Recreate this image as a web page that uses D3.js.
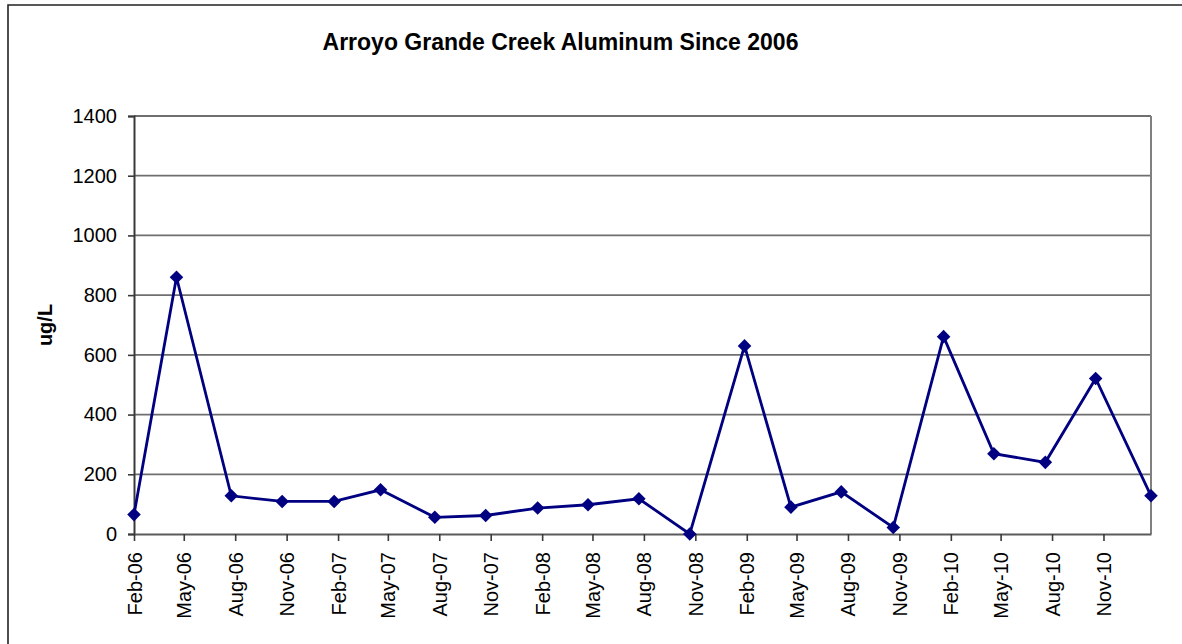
<!DOCTYPE html>
<html>
<head>
<meta charset="utf-8">
<script src="https://cdn.jsdelivr.net/npm/d3@7"></script>
<style>
  html, body { margin: 0; padding: 0; background: #fff; }
  svg { display: block; }
  text { font-family: "Liberation Sans", Arial, sans-serif; fill: #000; }
</style>
</head>
<body>
<svg id="chart" width="1182" height="644"></svg>
<script>
// ---- Data ----
const sampleDates = [
  "2006-02-01","2006-04-18","2006-07-25","2006-10-24","2007-01-25","2007-04-18",
  "2007-07-24","2007-10-23","2008-01-24","2008-04-23","2008-07-23","2008-10-22",
  "2009-01-28","2009-04-21","2009-07-20","2009-10-21","2010-01-19","2010-04-19",
  "2010-07-20","2010-10-18","2011-01-25"
];
const aluminum = [65, 860, 128, 109, 109, 148, 56, 62, 87, 98, 118, 0,
                  630, 90, 141, 22, 661, 269, 240, 521, 128];
const tickLabels = ["Feb-06","May-06","Aug-06","Nov-06","Feb-07","May-07","Aug-07","Nov-07",
                    "Feb-08","May-08","Aug-08","Nov-08","Feb-09","May-09","Aug-09","Nov-09",
                    "Feb-10","May-10","Aug-10","Nov-10"];
const yTicks = [0, 200, 400, 600, 800, 1000, 1200, 1400];
const chartTitle = "Arroyo Grande Creek Aluminum Since 2006";
const yLabel = "ug/L";

// ---- Build ----
const parseISO = d3.utcParse("%Y-%m-%d");
const parseTick = d3.utcParse("%b-%y");
const data = sampleDates.map((d, i) => ({ date: parseISO(d), value: aluminum[i] }));
const tickDates = tickLabels.map(parseTick);

const svg = d3.select("#chart");
const plot = { left: 134, right: 1151, top: 116, bottom: 534 };

const x = d3.scaleUtc()
  .domain(d3.extent(data, d => d.date))
  .range([plot.left, plot.right]);
const y = d3.scaleLinear()
  .domain([0, 1400])
  .range([plot.bottom, plot.top]);

// Outer chart border (only top and left visible in the frame)
svg.append("path")
  .attr("d", "M8,1200 L8,5 L1300,5")
  .attr("fill", "none").attr("stroke", "#222").attr("stroke-width", 1.6);

// Title
svg.append("text")
  .attr("x", 560.5).attr("y", 49.5)
  .attr("text-anchor", "middle")
  .style("font-size", "23px").style("font-weight", "bold")
  .text(chartTitle);

// Y axis label
svg.append("text")
  .attr("transform", `translate(52,${(plot.top + plot.bottom) / 2}) rotate(-90)`)
  .attr("text-anchor", "middle")
  .style("font-size", "20px").style("font-weight", "bold")
  .text(yLabel);

// Gridlines
svg.append("g")
  .selectAll("line")
  .data(yTicks.filter(v => v > 0))
  .join("line")
  .attr("x1", plot.left).attr("x2", plot.right)
  .attr("y1", d => y(d)).attr("y2", d => y(d))
  .attr("stroke", "#6f6f6f").attr("stroke-width", 1.8);

// Plot-area right border
svg.append("line")
  .attr("x1", plot.right).attr("x2", plot.right)
  .attr("y1", plot.top).attr("y2", plot.bottom)
  .attr("stroke", "#808080").attr("stroke-width", 2);

// Y axis
const yAxis = svg.append("g")
  .attr("transform", `translate(${plot.left},0)`)
  .call(d3.axisLeft(y).tickValues(yTicks).tickFormat(d3.format("d")).tickSize(6).tickPadding(11));
yAxis.select(".domain").attr("stroke", "#3a3a3a").attr("stroke-width", 2);
yAxis.selectAll(".tick line").attr("stroke", "#3a3a3a").attr("stroke-width", 1.6);
yAxis.selectAll(".tick text")
  .style("font-size", "20px").style("font-family", "'Liberation Sans', Arial, sans-serif")
  .attr("fill", "#000");

// X axis
const xAxis = svg.append("g")
  .attr("transform", `translate(0,${plot.bottom})`)
  .call(d3.axisBottom(x).tickValues(tickDates).tickFormat((d, i) => tickLabels[i]).tickSize(7).tickSizeOuter(0));
xAxis.select(".domain").attr("stroke", "#5a5a5a").attr("stroke-width", 2);
xAxis.selectAll(".tick line").attr("stroke", "#3a3a3a").attr("stroke-width", 1.6);
xAxis.selectAll(".tick text")
  .style("font-size", "20px").style("font-family", "'Liberation Sans', Arial, sans-serif")
  .attr("fill", "#000")
  .attr("text-anchor", "end")
  .attr("transform", "translate(0,18) rotate(-90)")
  .attr("x", 0).attr("y", 0).attr("dy", "0.35em");

// Series line
svg.append("path")
  .datum(data)
  .attr("fill", "none")
  .attr("stroke", "#000080")
  .attr("stroke-width", 2.8)
  .attr("stroke-linejoin", "miter")
  .attr("d", d3.line().x(d => x(d.date)).y(d => y(d.value)));

// Diamond markers
svg.append("g")
  .selectAll("path")
  .data(data)
  .join("path")
  .attr("transform", d => `translate(${x(d.date)},${y(d.value)}) rotate(45)`)
  .attr("d", d3.symbol().type(d3.symbolSquare).size(92))
  .attr("fill", "#000080");
</script>
</body>
</html>
